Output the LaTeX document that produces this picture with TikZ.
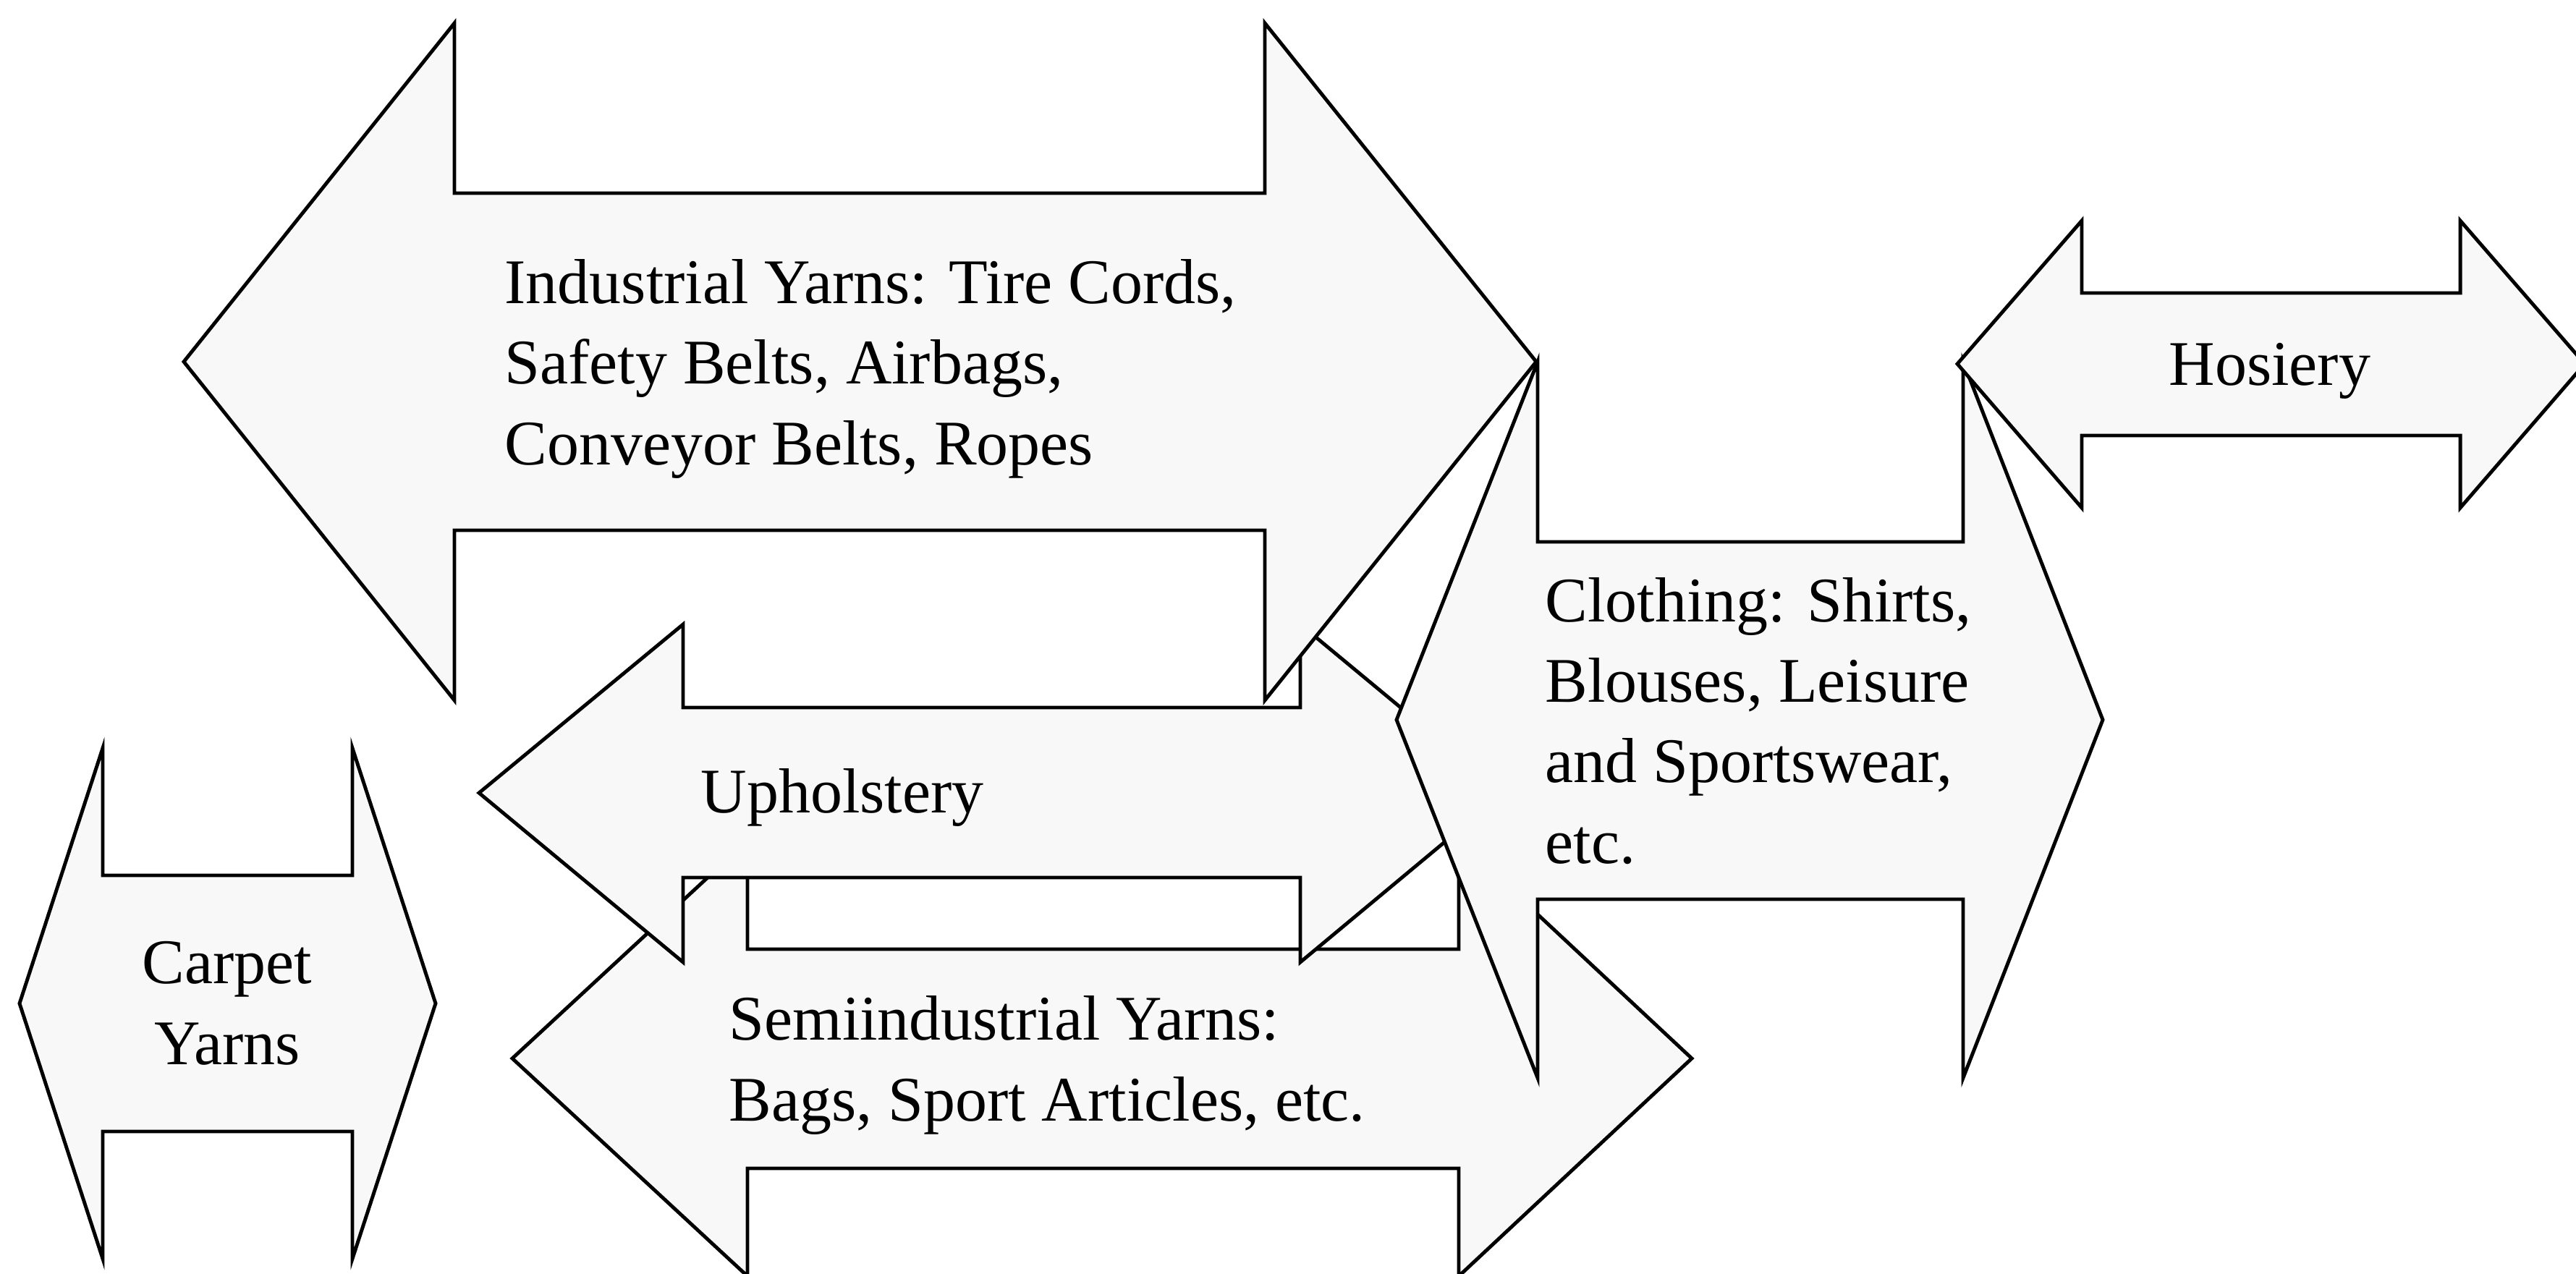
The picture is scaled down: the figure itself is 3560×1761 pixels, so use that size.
\documentclass[tikz,border=0pt]{standalone}
\usepackage{fontspec}
\setmainfont{Liberation Serif}
\usepackage{tikz}
\usepackage{xcolor}
\definecolor{shade}{RGB}{248,248,248}

\begin{document}
\begin{tikzpicture}[x=0.01cm,y=-0.01cm]
  \tikzstyle{blk} = [draw,fill=shade,line width=1.4pt]
  \tikzstyle{lbl} = [inner sep=0pt,align=left,anchor=base west,
                     font=\fontsize{25}{31.6}\selectfont]
  \useasboundingbox (0,0) rectangle (3560,1761);
  %%
  %% arrows, back to front
  \draw [blk] (708,1463) -- (1033,1162) -- (1033,1312) -- (2016,1312) -- (2016,1162)
    -- (2338,1463) -- (2016,1764) -- (2016,1615) -- (1033,1615) -- (1033,1764) -- cycle;
  \draw [blk] (662,1096) -- (944,863) -- (944,978) -- (1797,978) -- (1797,863)
    -- (2078,1096) -- (1797,1330) -- (1797,1213) -- (944,1213) -- (944,1330) -- cycle;
  \draw [blk] (254,500) -- (628,32) -- (628,267) -- (1748,267) -- (1748,32)
    -- (2123,500) -- (1748,968) -- (1748,733) -- (628,733) -- (628,968) -- cycle;
  \draw [blk] (1930,995) -- (2125,500) -- (2125,749) -- (2713,749) -- (2713,500)
    -- (2906,995) -- (2713,1490) -- (2713,1243) -- (2125,1243) -- (2125,1490) -- cycle;
  \draw [blk] (2705,503) -- (2877,305) -- (2877,405) -- (3400,405) -- (3400,305)
    -- (3572,503) -- (3400,702) -- (3400,602) -- (2877,602) -- (2877,702) -- cycle;
  \draw [blk] (27,1387) -- (142,1034) -- (142,1210) -- (487,1210) -- (487,1034)
    -- (602,1387) -- (487,1740) -- (487,1564) -- (142,1564) -- (142,1740) -- cycle;
  %%
  %% labels (base = last line)
  \node [lbl] (ind) at (697,642) {Industrial Yarns: Tire Cords,\\Safety Belts, Airbags,\\Conveyor Belts, Ropes};
  \node [lbl] (uph) at (968,1123) {Upholstery};
  \node [lbl] (semi) at (1007,1549) {Semiindustrial Yarns:\\Bags, Sport Articles, etc.};
  \node [lbl] (clo) at (2135,1193) {Clothing: Shirts,\\Blouses, Leisure\\and Sportswear,\\etc.};
  \node [lbl] (hos) at (2997,533) {Hosiery};
  \node [lbl,align=center,anchor=base] (car) at (314,1471) {Carpet\\Yarns};
\end{tikzpicture}
\end{document}
